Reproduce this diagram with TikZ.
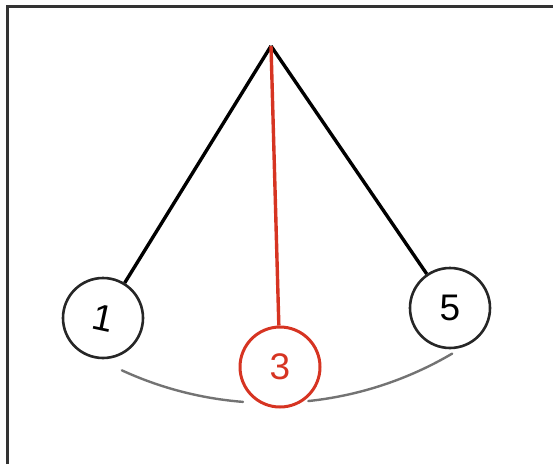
\documentclass[tikz,border=0pt]{standalone}
\usepackage{fontspec}
\setmainfont{Liberation Sans}
\definecolor{ballred}{RGB}{214,52,34}
\tikzset{
  x=1pt, y=1pt,
  ball/.style={circle, draw, line width=2.6pt, minimum size=80pt, inner sep=0pt,
    font=\fontsize{37}{39}\selectfont},
  stringline/.style={line width=3.4pt},
  path/.style={draw=black!55, line width=2.4pt, line cap=round},
  frame/.style={draw=black!80, line width=2.8pt}
}
\begin{document}
\begin{tikzpicture}
\useasboundingbox (0,0) rectangle (553,464);
% frame
\coordinate (ftl) at (7.5,457.5);
\coordinate (ftr) at (553,457.5);
\coordinate (fbl) at (7.5,0);
\draw[frame] (fbl) -- (ftl) -- (ftr);
% pivot
\coordinate (pivot) at (271,418);
% balls
\node[ball, draw=black!85] (b1) at (103,146) {\rotatebox{-12}{1}};
\node[ball, draw=ballred, text=ballred, line width=3pt] (b3) at (280,97) {3};
\node[ball, draw=black!85] (b5) at (450,156) {5};
% strings
\draw[stringline] (pivot) -- (b1);
\draw[stringline] (pivot) -- (b5);
\draw[stringline, draw=ballred] (pivot) -- (b3);
% swing path
\draw[path] ([shift={(245.3:357)}]pivot) arc[start angle=245.3, end angle=265.5, radius=357];
\draw[path] ([shift={(276:357)}]pivot) arc[start angle=276, end angle=300.5, radius=357];
\end{tikzpicture}
\end{document}
